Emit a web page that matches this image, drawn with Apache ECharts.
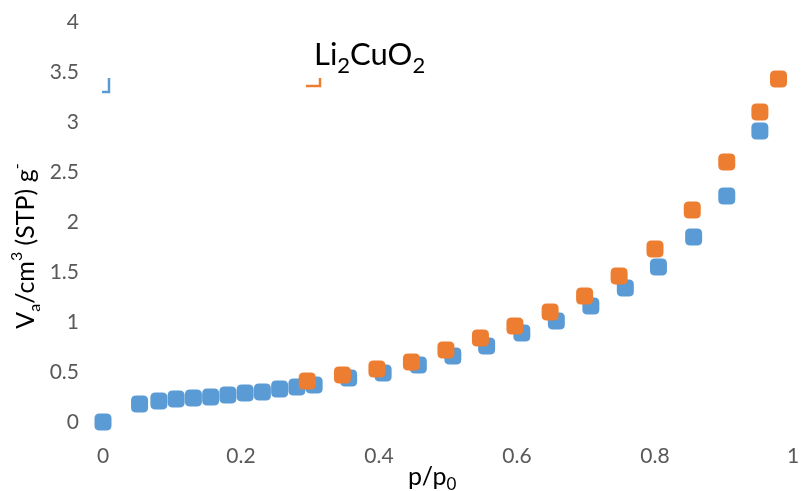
<!DOCTYPE html>
<html>
<head>
<meta charset="utf-8">
<script src="https://cdn.jsdelivr.net/npm/echarts@6/dist/echarts.min.js"></script>
<style>html,body{margin:0;padding:0;background:#fff}#c{width:801px;height:491px}</style>
</head>
<body>
<div id="c"></div>
<script>
const xTicks = [0, 0.2, 0.4, 0.6, 0.8, 1];
const yTicks = [0, 0.5, 1, 1.5, 2, 2.5, 3, 3.5, 4];
const seriesNames = ['', 'Li2CuO2'];
const blueX = [0, 0.053, 0.081, 0.106, 0.131, 0.156, 0.181, 0.206, 0.231, 0.256, 0.281, 0.306, 0.356, 0.406, 0.457, 0.507, 0.556, 0.607, 0.657, 0.707, 0.757, 0.805, 0.856, 0.904, 0.952];
const blueY = [0, 0.18, 0.21, 0.23, 0.24, 0.25, 0.27, 0.29, 0.30, 0.33, 0.35, 0.37, 0.44, 0.49, 0.57, 0.66, 0.76, 0.89, 1.01, 1.16, 1.34, 1.55, 1.85, 2.26, 2.91];
const orangeX = [0.296, 0.347, 0.397, 0.447, 0.497, 0.547, 0.597, 0.648, 0.698, 0.748, 0.80, 0.854, 0.904, 0.952, 0.979];
const orangeY = [0.41, 0.47, 0.53, 0.60, 0.72, 0.84, 0.96, 1.10, 1.26, 1.46, 1.73, 2.12, 2.60, 3.10, 3.43];

const FONT = 'Lato';
const ROUND_SQ = 'path://M3,0H7Q10,0 10,3V7Q10,10 7,10H3Q0,10 0,7V3Q0,0 3,0Z';
const chart = echarts.init(document.getElementById('c'), null, {renderer: 'canvas'});
const zip = (a, b) => a.map((v, i) => [v, b[i]]);
chart.setOption({
  animation: false,
  textStyle: {fontFamily: FONT},
  grid: {left: 103, right: 8, top: 22, bottom: 69, containLabel: false, outerBoundsMode: 'none'},
  xAxis: {
    type: 'value', min: xTicks[0], max: xTicks[xTicks.length - 1], interval: 0.2,
    axisLine: {show: false}, axisTick: {show: false}, splitLine: {show: false},
    axisLabel: {color: '#595959', fontSize: 21, fontFamily: FONT, margin: 24, showMaxLabel: true}
  },
  yAxis: {
    type: 'value', min: yTicks[0], max: yTicks[yTicks.length - 1], interval: 0.5,
    axisLine: {show: false}, axisTick: {show: false}, splitLine: {show: false},
    axisLabel: {color: '#595959', fontSize: 21, fontFamily: FONT, margin: 24}
  },
  graphic: [
    {type: 'polyline', shape: {points: [[109, 78], [109, 92], [102, 92]]}, style: {stroke: '#5B9BD5', lineWidth: 2.5, fill: null}},
    {type: 'polyline', shape: {points: [[320, 78], [320, 86], [306, 86]]}, style: {stroke: '#ED7D31', lineWidth: 2.5, fill: null}},
    {type: 'text', left: 314, top: 39, style: {
      text: '{n|Li}{s|2}{n|CuO}{s|2}',
      rich: {
        n: {fontSize: 31, fill: '#000', fontFamily: FONT, verticalAlign: 'middle'},
        s: {fontSize: 22, fill: '#000', fontFamily: FONT, lineHeight: 44, verticalAlign: 'bottom'}
      }
    }},
    {type: 'text', x: 25.5, y: 246, rotation: Math.PI / 2, style: {
      x: 0, y: 0, align: 'center', verticalAlign: 'middle',
      text: '{n|V}{s|a}{n|/cm}{p|3}{n| (STP) g}{p|-}',
      rich: {
        n: {fontSize: 25, fill: '#000', fontFamily: FONT, verticalAlign: 'middle'},
        s: {fontSize: 16, fill: '#000', fontFamily: FONT, lineHeight: 34, verticalAlign: 'bottom'},
        p: {fontSize: 16, fill: '#000', fontFamily: FONT, verticalAlign: 'top'}
      }
    }},
    {type: 'text', left: 408, top: 464, style: {
      text: '{n|p/p}{s|0}',
      rich: {
        n: {fontSize: 25, fill: '#000', fontFamily: FONT, verticalAlign: 'middle'},
        s: {fontSize: 17, fill: '#000', fontFamily: FONT, lineHeight: 33, verticalAlign: 'bottom'}
      }
    }}
  ],
  series: [
    {name: seriesNames[0], type: 'scatter', symbol: ROUND_SQ, symbolSize: 17, itemStyle: {color: '#5B9BD5', opacity: 1}, data: zip(blueX, blueY)},
    {name: seriesNames[1], type: 'scatter', symbol: ROUND_SQ, symbolSize: 17, itemStyle: {color: '#ED7D31', opacity: 1}, data: zip(orangeX, orangeY)}
  ]
});
</script>
</body>
</html>
